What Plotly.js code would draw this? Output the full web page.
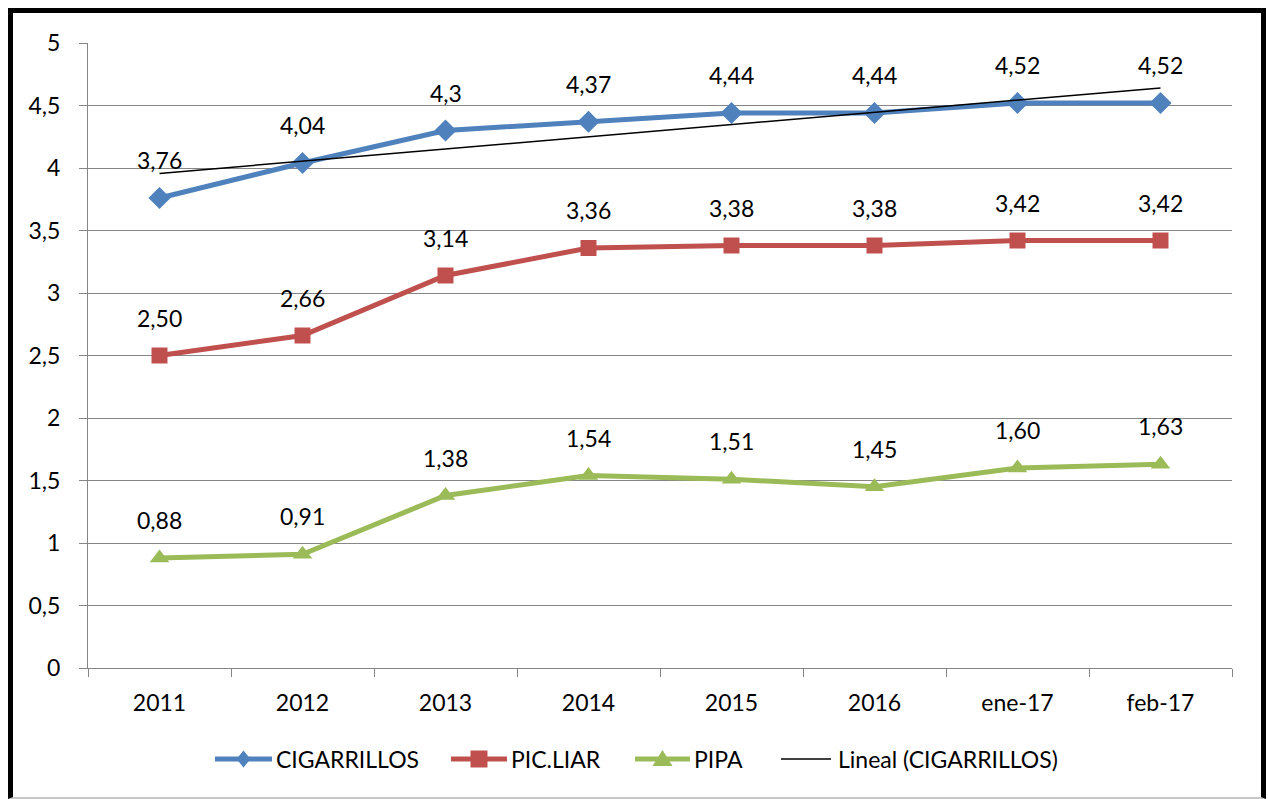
<!DOCTYPE html>
<html>
<head>
<meta charset="utf-8">
<script src="https://cdn.plot.ly/plotly-3.0.1.min.js"></script>
<style>
  html, body { margin: 0; padding: 0; background: #ffffff; }
  #wrap { position: relative; width: 1268px; height: 799px; }
  #chart { position: absolute; left: 0; top: 0; width: 1268px; height: 799px; }
  #frame { position: absolute; left: 8px; top: 8px; width: 1248px; height: 784px;
           border-top: 5px solid #000; border-left: 5px solid #000;
           border-right: 5px solid #000; border-bottom: 2px solid #c8c8c8;
           pointer-events: none; }
</style>
</head>
<body>
<div id="wrap">
  <div id="chart"></div>
  <div id="frame"></div>
</div>
<script>
const categories = ["2011", "2012", "2013", "2014", "2015", "2016", "ene-17", "feb-17"];
const cigarrillos = [3.76, 4.04, 4.3, 4.37, 4.44, 4.44, 4.52, 4.52];
const picLiar = [2.50, 2.66, 3.14, 3.36, 3.38, 3.38, 3.42, 3.42];
const pipa = [0.88, 0.91, 1.38, 1.54, 1.51, 1.45, 1.60, 1.63];
const seriesNames = ["CIGARRILLOS", "PIC.LIAR", "PIPA", "Lineal (CIGARRILLOS)"];
const yTickVals = [0, 0.5, 1, 1.5, 2, 2.5, 3, 3.5, 4, 4.5, 5];

// Linear trendline (least squares) of CIGARRILLOS, like Excel "Lineal"
const n = cigarrillos.length;
const xs = cigarrillos.map((_, i) => i + 1);
const mx = xs.reduce((a, b) => a + b, 0) / n;
const my = cigarrillos.reduce((a, b) => a + b, 0) / n;
let sxy = 0, sxx = 0;
for (let i = 0; i < n; i++) { sxy += (xs[i] - mx) * (cigarrillos[i] - my); sxx += (xs[i] - mx) ** 2; }
const slope = sxy / sxx, intercept = my - slope * mx;
const trend = xs.map(x => intercept + slope * x);

const FONT = "Lato, 'Open Sans', sans-serif";
const FS = 23;
const fmtGeneral = v => String(v).replace('.', ',');
const fmtFixed = v => v.toFixed(2).replace('.', ',');
const BLUE = "#4F81BD", RED = "#C0504D", GREEN = "#9BBB59";

const traces = [
  { x: categories, y: cigarrillos, name: seriesNames[0], type: "scatter", mode: "lines+markers",
    line: { color: BLUE, width: 5 }, marker: { symbol: "diamond", size: 17, color: BLUE } },
  { x: categories, y: picLiar, name: seriesNames[1], type: "scatter", mode: "lines+markers",
    line: { color: RED, width: 5 }, marker: { symbol: "square", size: 16, color: RED } },
  { x: categories, y: pipa, name: seriesNames[2], type: "scatter", mode: "lines+markers",
    line: { color: GREEN, width: 5 }, marker: { symbol: "triangle-up", size: 17, color: GREEN } },
  { x: categories, y: trend, name: seriesNames[3], type: "scatter", mode: "lines",
    line: { color: "#000000", width: 1.5 } }
];

const annotations = [];
function addLabels(vals, fmt) {
  vals.forEach((v, i) => annotations.push({
    x: i, y: v, xref: "x", yref: "y", text: fmt(v), showarrow: false,
    yshift: 38, yanchor: "middle", xanchor: "center",
    font: { family: FONT, size: FS, color: "#000" }
  }));
}
addLabels(cigarrillos, fmtGeneral);
addLabels(picLiar, fmtFixed);
addLabels(pipa, fmtFixed);

// Manual legend (Excel style: long line segments with marker in the middle)
const M = { l: 88, r: 36, t: 43, b: 131 };
const PW = 1268 - M.l - M.r, PH = 799 - M.t - M.b;
const px2x = p => (p - M.l) / PW;
const py2y = p => (799 - M.b - p) / PH;
const LEG_Y = 759;
const legendItems = [
  { name: seriesNames[0], color: BLUE, lx0: 215, lx1: 272, tx: 274, lw: 5,
    path: "M -7 0 L 0 8.5 L 7 0 L 0 -8.5 Z" },
  { name: seriesNames[1], color: RED, lx0: 451, lx1: 507, tx: 509, lw: 5,
    path: "M -8.5 -8.5 L 8.5 -8.5 L 8.5 8.5 L -8.5 8.5 Z" },
  { name: seriesNames[2], color: GREEN, lx0: 635, lx1: 690, tx: 692, lw: 5,
    path: "M -10 -7 L 10 -7 L 0 9 Z" },
  { name: seriesNames[3], color: "#000000", lx0: 781, lx1: 831, tx: 836, lw: 1.5, path: null }
];
const shapes = [];
legendItems.forEach(it => {
  shapes.push({ type: "line", xref: "paper", yref: "paper",
    x0: px2x(it.lx0), x1: px2x(it.lx1), y0: py2y(LEG_Y), y1: py2y(LEG_Y),
    line: { color: it.color, width: it.lw } });
  if (it.path) {
    shapes.push({ type: "path", xref: "paper", yref: "paper",
      xsizemode: "pixel", ysizemode: "pixel",
      xanchor: px2x((it.lx0 + it.lx1) / 2), yanchor: py2y(LEG_Y),
      path: it.path, fillcolor: it.color, line: { width: 0 } });
  }
  annotations.push({ xref: "paper", yref: "paper", x: px2x(it.tx), y: py2y(LEG_Y),
    xanchor: "left", yanchor: "middle", showarrow: false, text: it.name,
    font: { family: FONT, size: FS, color: "#000" } });
});

const layout = {
  width: 1268, height: 799,
  margin: M,
  paper_bgcolor: "#ffffff", plot_bgcolor: "#ffffff",
  separators: ",.",
  font: { family: FONT, size: FS, color: "#000" },
  showlegend: false,
  xaxis: {
    type: "category", range: [-0.5, 7.5], showgrid: false, zeroline: false,
    showline: true, linecolor: "#868686", linewidth: 1,
    ticks: "outside", tickson: "boundaries", ticklen: 8, tickcolor: "#868686",
    ticklabelstandoff: 14, tickfont: { family: FONT, size: FS, color: "#000" }
  },
  yaxis: {
    range: [0, 5], tickvals: yTickVals, showgrid: true, gridcolor: "#868686", gridwidth: 1,
    zeroline: false, showline: true, linecolor: "#868686", linewidth: 1,
    ticks: "outside", ticklen: 8, tickcolor: "#868686",
    ticklabelstandoff: 14, tickfont: { family: FONT, size: FS, color: "#000" }
  },
  shapes: shapes,
  annotations: annotations
};

Plotly.newPlot("chart", traces, layout, { displayModeBar: false, staticPlot: true });
</script>
</body>
</html>
